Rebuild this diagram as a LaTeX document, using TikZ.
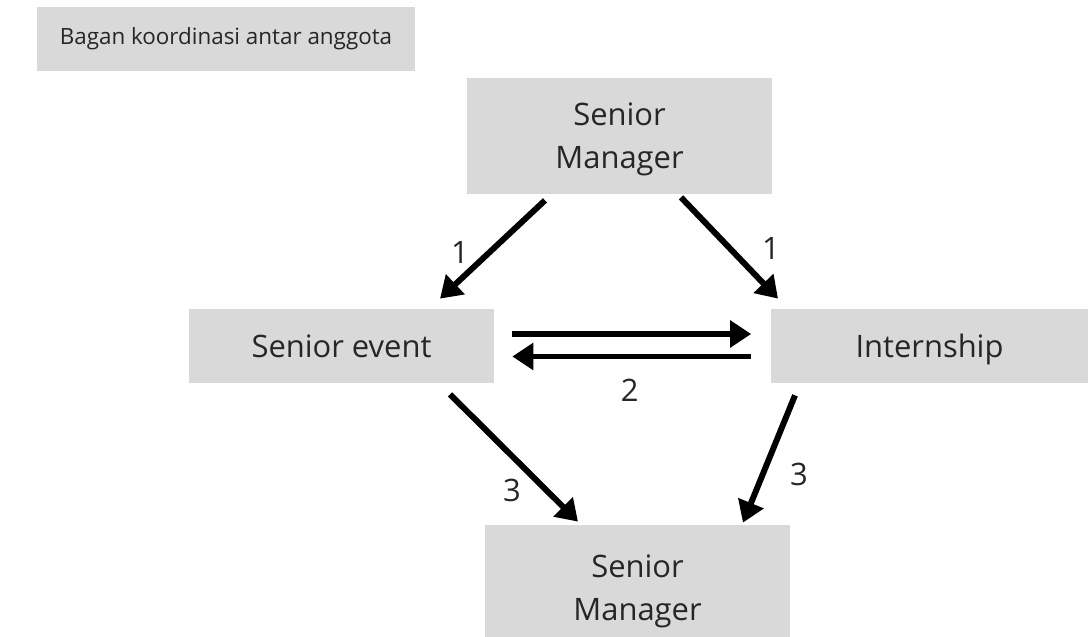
\documentclass[tikz,border=0pt]{standalone}
\usepackage{fontspec}
\setmainfont{Open Sans}
\usepackage{tikz}
\usetikzlibrary{arrows.meta}
\definecolor{boxgray}{HTML}{D9D9D9}
\tikzset{box/.style={fill=boxgray, minimum width=6.1cm, align=center, text=black!85, font=\fontsize{17.6}{24.4}\selectfont}}
\tikzset{arr/.style={line width=3.4pt, -{Triangle[length=12pt,width=15pt]}}}
\tikzset{lbl/.style={text=black!85, font=\fontsize{17.6}{20}\selectfont}}

\begin{document}
\begin{tikzpicture}
\fill[white] (0,0) rectangle (21.76,-12.74);
\useasboundingbox (0,0) rectangle (21.76,-12.74);
\node[box, minimum width=7.56cm, minimum height=1.28cm, font=\fontsize{12.75}{15}\selectfont] (title) at (4.52,-0.78) {Bagan koordinasi antar anggota};
\node[box, minimum height=2.32cm, text depth=-0.05cm] (top) at (12.39,-2.72) {Senior\\Manager};
\node[box, minimum height=1.48cm, text depth=-0.2cm] (event) at (6.83,-6.92) {Senior event};
\node[box, minimum width=6.36cm, minimum height=1.48cm, text depth=-0.16cm] (intern) at (18.59,-6.92) {Internship};
\node[box, minimum height=2.52cm, text depth=-0.05cm] (bottom) at (12.75,-11.76) {Senior\\Manager};

\draw[arr] ([shift={(-1.49,-0.12)}]top.south) -- ([shift={(1.97,0.2)}]event.north)
  node[lbl, pos=.5, shift={(-0.65,-0.06)}] (n1a) {1};
\draw[arr] ([shift={(1.23,-0.06)}]top.south) -- ([shift={(-3.03,0.2)}]intern.north)
  node[lbl, pos=.5, shift={(0.83,0)}] (n1b) {1};
\draw[arr] ([shift={(0.36,0.24)}]event.east) -- ([shift={(-0.38,0.24)}]intern.west);
\draw[arr] ([shift={(-0.38,-0.21)}]intern.west) -- ([shift={(0.36,-0.21)}]event.east)
  node[lbl, pos=.5, shift={(-0.04,-0.68)}] (n2) {2};
\draw[arr] ([shift={(2.17,-0.22)}]event.south) -- ([shift={(-1.19,0.06)}]bottom.north)
  node[lbl, pos=.5, shift={(-0.04,-0.64)}] (n3a) {3};
\draw[arr] ([shift={(-2.69,-0.24)}]intern.south) -- ([shift={(2.11,0.04)}]bottom.north)
  node[lbl, pos=.5, shift={(0.6,-0.31)}] (n3b) {3};
\end{tikzpicture}
\end{document}
